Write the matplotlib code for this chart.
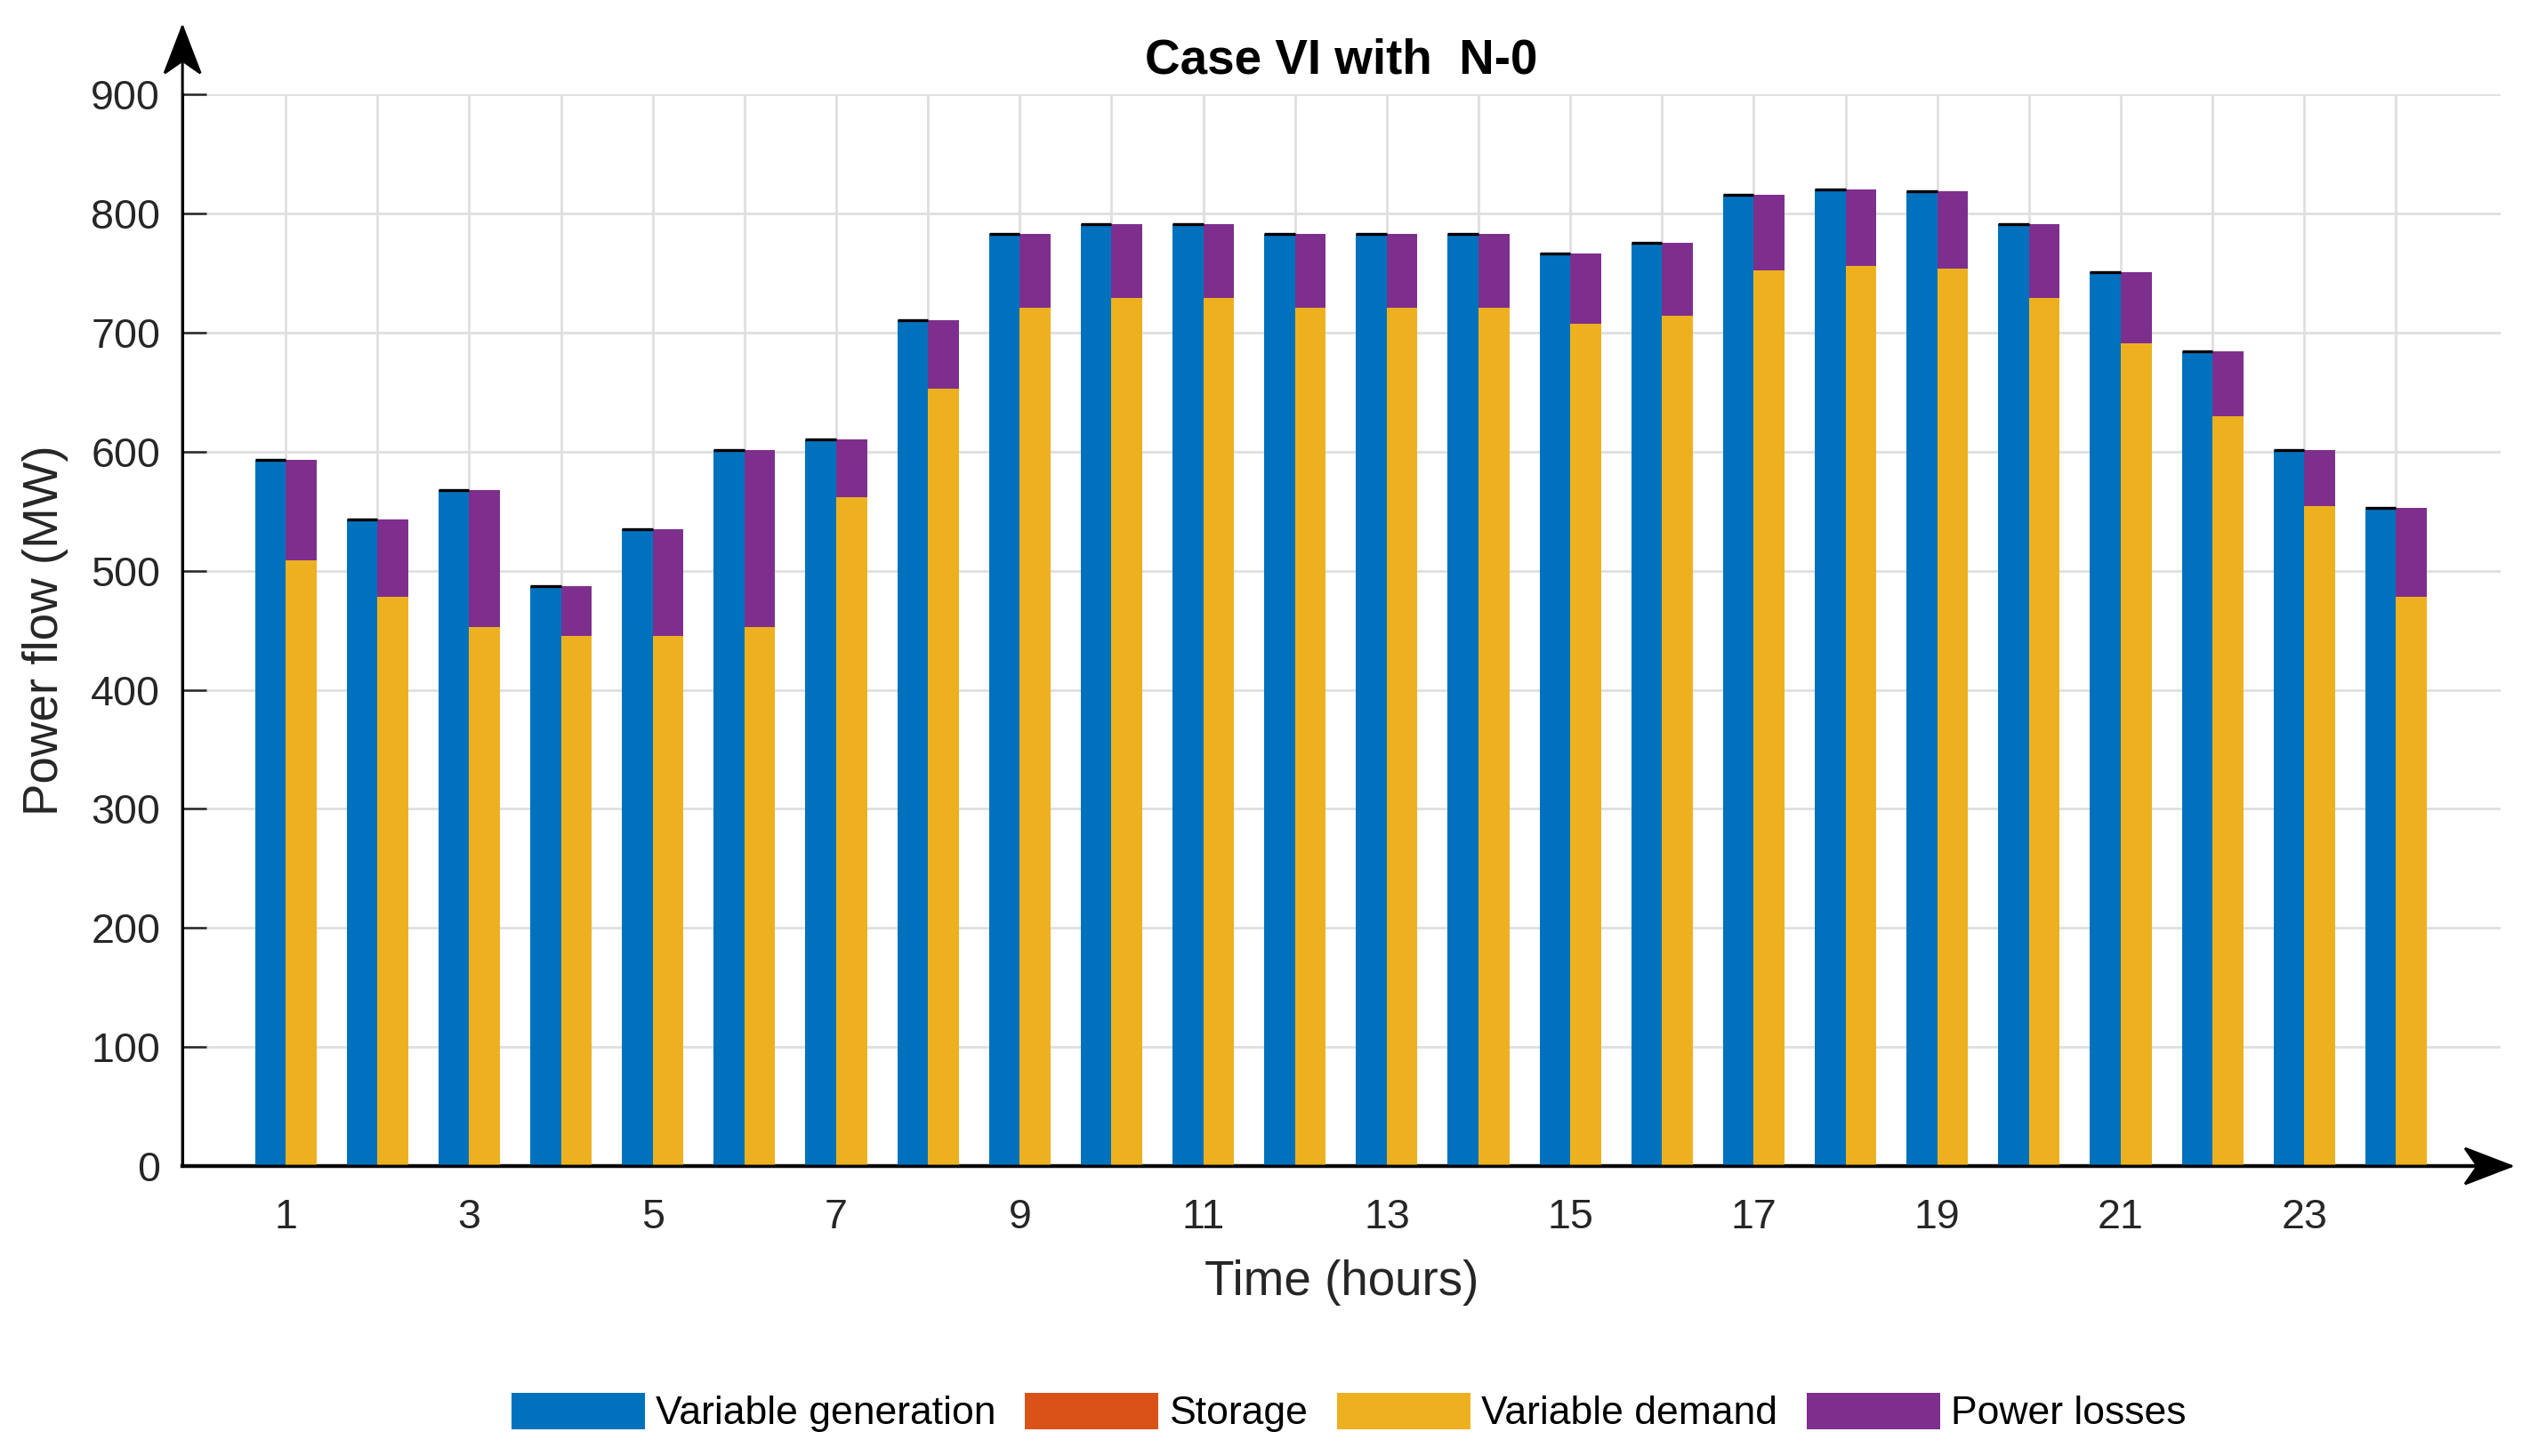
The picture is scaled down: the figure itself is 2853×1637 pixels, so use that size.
import matplotlib.pyplot as plt
from matplotlib.patches import Patch, Polygon
from matplotlib.transforms import IdentityTransform

plt.rcParams['font.family'] = ['Liberation Sans', 'DejaVu Sans']

# hourly values (MW)
hours = list(range(1, 25))
generation = [593, 543, 568, 487, 535, 601, 610, 710, 783, 791, 791, 783,
              783, 783, 766, 775, 816, 820, 819, 791, 751, 684, 601, 553]
storage = [0] * 24
demand = [509, 478, 453, 445, 445, 453, 562, 653, 721, 729, 729, 721,
          721, 721, 707, 714, 752, 756, 754, 729, 691, 630, 554, 478]
losses = [84, 65, 115, 42, 90, 148, 48, 57, 62, 62, 62, 62,
          62, 62, 59, 61, 64, 64, 65, 62, 60, 54, 47, 75]
series_names = ['Variable generation', 'Storage', 'Variable demand', 'Power losses']
colors = ['#0072BD', '#D95319', '#EDB120', '#7E2F8E']
yticks = list(range(0, 1000, 100))

dark = '#262626'
fig = plt.figure(figsize=(14.265, 8.185), dpi=200)
ax = fig.add_axes([0.0719, 0.1991, 0.9134, 0.7361])

# grouped bars: supply on the left of each hour, consumption on the right
w = 0.335
left_x = [h - w / 2 for h in hours]
right_x = [h + w / 2 for h in hours]
ax.bar(left_x, generation, w, color=colors[0], linewidth=0, zorder=2)
# zero storage still leaves its black edge on top of the generation bar
ax.bar(left_x, storage, w, bottom=generation, color=colors[1],
       edgecolor='black', linewidth=1.2, zorder=3)
ax.bar(right_x, demand, w, color=colors[2], linewidth=0, zorder=2)
ax.bar(right_x, losses, w, bottom=demand, color=colors[3], linewidth=0, zorder=2)

ax.set_xlim(-0.125, 25.14)
ax.set_ylim(0, 900)
ax.set_xticks(hours)
ax.set_xticklabels([str(h) if h % 2 == 1 else '' for h in hours])
ax.set_yticks(yticks)
ax.tick_params(axis='x', length=0, pad=13, labelsize=16.8, labelcolor=dark)
ax.tick_params(axis='y', direction='in', length=9.7, width=0.9, color=dark,
               pad=9, labelsize=16.8, labelcolor=dark)

ax.grid(True, color='#DFDFDF', linewidth=1.0)
ax.set_axisbelow(True)
for side in ['top', 'right']:
    ax.spines[side].set_visible(False)
ax.spines['left'].set_color('black')
ax.spines['left'].set_linewidth(1.1)
ax.spines['bottom'].set_color(dark)
ax.spines['bottom'].set_linewidth(1.6)
ax.spines['bottom'].set_zorder(1)

# axis arrows: plain lines plus notched heads drawn in pixels
y_tip = (0, 1.063)
x_tip = (1.0046, 0)
line = dict(arrowstyle='-', color='black', lw=1.1, shrinkA=0, shrinkB=0)
ax.annotate('', xy=y_tip, xytext=(0, 0), xycoords='axes fraction',
            arrowprops=line, annotation_clip=False)
ax.annotate('', xy=x_tip, xytext=(0, 0), xycoords='axes fraction',
            arrowprops=line, annotation_clip=False)

tx, ty = ax.transAxes.transform(y_tip)
fig.add_artist(Polygon([(tx, ty), (tx - 20, ty - 52), (tx, ty - 38), (tx + 20, ty - 52)],
                       closed=True, color='black', transform=IdentityTransform()))
tx, ty = ax.transAxes.transform(x_tip)
fig.add_artist(Polygon([(tx, ty), (tx - 52, ty + 20), (tx - 38, ty), (tx - 52, ty - 20)],
                       closed=True, color='black', transform=IdentityTransform()))

ax.set_title('Case VI with  N-0', fontsize=19.7, fontweight='bold', pad=8.5)
ax.set_xlabel('Time (hours)', fontsize=19.7, color=dark, va='center')
ax.xaxis.set_label_coords(0.5, -0.109)
ax.set_ylabel('Power flow (MW)', fontsize=19.7, color=dark, va='center')
ax.yaxis.set_label_coords(-0.0591, 0.5)

handles = [Patch(facecolor=c, linewidth=0) for c in colors]
fig.legend(handles, series_names, loc='center', bbox_to_anchor=(0.5315, 0.030),
           ncol=4, frameon=False, fontsize=16, handlelength=3.375,
           handleheight=1.04, handletextpad=0.27, columnspacing=0.74)

fig.savefig('out.png', dpi=200)
